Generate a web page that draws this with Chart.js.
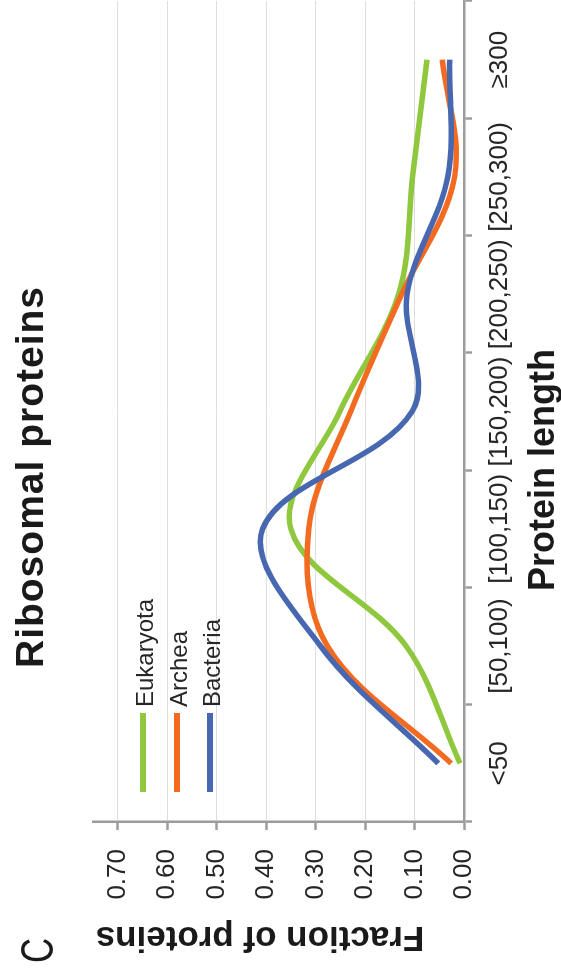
<!DOCTYPE html>
<html>
<head>
<meta charset="utf-8">
<script src="https://cdn.jsdelivr.net/npm/chart.js@4.4.1/dist/chart.umd.min.js"></script>
<style>
  html, body { margin: 0; padding: 0; background: #fff; overflow: hidden; }
  body { width: 561px; height: 974px; position: relative; }
  /* the figure is laid out landscape and turned a quarter turn counter-clockwise */
  #stage {
    position: absolute; left: 0; top: 0; width: 974px; height: 561px;
    transform-origin: 0 0; transform: translate(0, 974px) rotate(-90deg);
    font-family: "Liberation Sans", Arial, Helvetica, sans-serif; color: #1a1a1a;
  }
  #stage canvas { position: absolute; left: 0; top: 0; }
  .txt { position: absolute; white-space: nowrap; line-height: 1; }
  #panel { left: 11px; top: 13px; font-size: 47px; transform: scaleX(0.74); transform-origin: 0 0; }
  #title { left: 497px; top: 10px; font-size: 39px; font-weight: bold; letter-spacing: 1px; transform: translateX(-50%); }
  #xtitle { left: 504px; top: 524px; font-size: 36px; font-weight: bold; transform: translateX(-50%); }
  #ytitle { left: 34px; top: 260px; font-size: 35px; font-weight: bold; transform: translate(-50%, -50%) rotate(-90deg); }
  .lg-line { position: absolute; left: 182px; width: 79px; height: 6px; }
  .lg-text { position: absolute; left: 267px; font-size: 24px; line-height: 1; white-space: nowrap; color: #262626; }
</style>
</head>
<body>
<div id="stage">
  <canvas id="chart" width="974" height="561"></canvas>
  <div class="txt" id="panel">C</div>
  <div class="txt" id="title">Ribosomal proteins</div>
  <div class="txt" id="xtitle">Protein length</div>
  <div class="txt" id="ytitle">Fraction of proteins</div>
  <div id="legend"></div>
</div>
<script>
// Protein length bins
const categories = ['<50', '[50,100)', '[100,150)', '[150,200)', '[200,250)', '[250,300)', '\u2265300'];

// Fraction of ribosomal proteins in each length bin
const eukaryota = [0.008, 0.117, 0.350, 0.251, 0.132, 0.104, 0.075];
const archea    = [0.026, 0.276, 0.314, 0.229, 0.126, 0.019, 0.044];
const bacteria  = [0.052, 0.290, 0.407, 0.105, 0.115, 0.033, 0.029];

// Value axis ticks
const fractionTicks = [0, 0.1, 0.2, 0.3, 0.4, 0.5, 0.6, 0.7];

const seriesNames  = ['Eukaryota', 'Archea', 'Bacteria'];
const seriesColors = ['#8FC73E', '#F36B21', '#4767B1'];
const seriesValues = [eukaryota, archea, bacteria];

const axisGrey = '#9C9C9C';
const labelColor = '#262626';

Chart.defaults.font.family = '"Liberation Sans", Arial, Helvetica, sans-serif';

const datasets = seriesNames.map((name, s) => ({
  label: name,
  data: seriesValues[s].map((v, i) => ({ x: i, y: v })),
  borderColor: seriesColors[s],
  backgroundColor: seriesColors[s],
  order: seriesNames.length - s,
  fill: false
}));

// tick positions: bin boundaries carry the tick marks, bin centres carry the labels
const binTicks = [];
for (let k = 0; k <= categories.length * 2; k++) binTicks.push(-0.5 + k * 0.5);

const chart = new Chart(document.getElementById('chart'), {
  type: 'line',
  data: { datasets },
  options: {
    responsive: false,
    animation: false,
    devicePixelRatio: 1,
    layout: { padding: { top: 93, right: 1, left: 0, bottom: 0 } },
    plugins: { legend: { display: false }, tooltip: { enabled: false } },
    elements: {
      point: { radius: 0, hoverRadius: 0 },
      line: { tension: 0.35, borderWidth: 5.5, borderCapStyle: 'butt', borderJoinStyle: 'round' }
    },
    scales: {
      x: {
        type: 'linear',
        min: -0.5,
        max: categories.length - 0.5,
        afterBuildTicks: (scale) => { scale.ticks = binTicks.map(v => ({ value: v })); },
        afterFit: (scale) => {
          scale.height = 97;
          scale.paddingLeft = 0;
          scale.paddingRight = 0;
        },
        ticks: {
          autoSkip: false, maxRotation: 0, minRotation: 0, padding: 12,
          font: { size: 26 }, color: labelColor,
          callback: (v) => Number.isInteger(v) ? categories[v] : ''
        },
        grid: {
          drawOnChartArea: false, tickLength: 8, tickWidth: 2.5,
          tickColor: (c) => (c.tick && Number.isInteger(c.tick.value)) ? 'rgba(0,0,0,0)' : axisGrey
        },
        border: { color: axisGrey, width: 2.5 }
      },
      y: {
        min: 0,
        max: 0.75,
        afterBuildTicks: (scale) => { scale.ticks = fractionTicks.map(v => ({ value: v })); },
        afterFit: (scale) => { scale.width = 152; },
        ticks: {
          padding: 19, font: { size: 26 }, color: labelColor,
          callback: (v) => Number(v).toFixed(2)
        },
        grid: { color: '#DEDEDE', lineWidth: 1, tickLength: 8, tickWidth: 2.5, tickColor: axisGrey },
        border: { color: axisGrey, width: 2.5 }
      }
    }
  }
});

// legend stacked inside the plot, built from the chart's datasets
const legend = document.getElementById('legend');
chart.data.datasets.forEach((ds, i) => {
  const centre = 143 + i * 33.5;
  const line = document.createElement('div');
  line.className = 'lg-line';
  line.style.top = (centre - 3) + 'px';
  line.style.background = ds.borderColor;
  const text = document.createElement('div');
  text.className = 'lg-text';
  text.style.top = (centre + 10.5 - 0.8465 * 24) + 'px';
  text.textContent = ds.label;
  legend.appendChild(line);
  legend.appendChild(text);
});
</script>
</body>
</html>
